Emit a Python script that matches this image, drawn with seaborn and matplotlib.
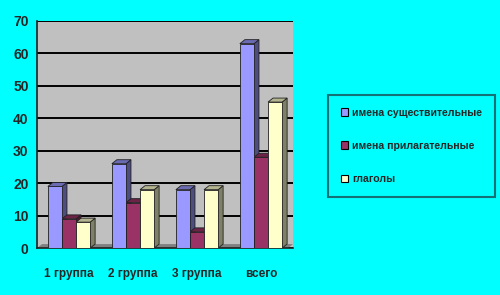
import matplotlib
matplotlib.use("Agg")
import matplotlib.pyplot as plt
import seaborn as sns
import pandas as pd
import numpy as np
from matplotlib.patches import Polygon
from matplotlib.colors import to_rgb

categories = ["1 группа", "2 группа", "3 группа", "всего"]
series_names = ["имена существительные", "имена прилагательные", "глаголы"]
nouns = [19, 26, 18, 63]
adjectives = [9, 14, 5, 28]
verbs = [8, 18, 18, 45]
y_ticks = [0, 10, 20, 30, 40, 50, 60, 70]

colors = ["#9999FF", "#993366", "#FFFFCC"]
bg = "#00FFFF"

rows = []
for name, vals in zip(series_names, [nouns, adjectives, verbs]):
    for c, v in zip(categories, vals):
        rows.append({"cat": c, "series": name, "value": v})
df = pd.DataFrame(rows)

sns.set_style("white")
plt.rcParams["font.family"] = ["Liberation Sans", "DejaVu Sans"]
plt.rcParams["font.weight"] = "bold"

fig = plt.figure(figsize=(5.0, 2.95), dpi=100, facecolor=bg)
ax = fig.add_axes([0.074, 0.159, 0.512, 0.77])
ax.set_facecolor("#C0C0C0")

sns.barplot(data=df, x="cat", y="value", hue="series", palette=colors,
            width=0.66, ax=ax, edgecolor="#202020", linewidth=0.6,
            saturation=1, legend=True, zorder=3)

ax.set_ylim(0, 70)
ax.set_yticks(y_ticks)
ax.set_xlim(-0.5, 3.5)
ax.yaxis.grid(True, color="black", linewidth=1.4, zorder=0)
ax.set_axisbelow(True)
ax.set_xlabel("")
ax.set_ylabel("")

# pixel-to-data conversion for pseudo-3D depth
fig.canvas.draw()
bbox = ax.get_window_extent()
dx = 5 * (ax.get_xlim()[1] - ax.get_xlim()[0]) / bbox.width
dy = 4 * (ax.get_ylim()[1] - ax.get_ylim()[0]) / bbox.height

def darker(c, f):
    r, g, b = to_rgb(c)
    return (r * f, g * f, b * f)

for p in list(ax.patches):
    x0 = p.get_x(); w = p.get_width(); h = p.get_height()
    if w <= 0 or h <= 0:
        continue
    fc = p.get_facecolor()
    side = Polygon([(x0 + w, 0), (x0 + w, h), (x0 + w + dx, h + dy), (x0 + w + dx, dy)],
                   closed=True, facecolor=darker(fc[:3], 0.5), edgecolor="#202020",
                   linewidth=0.6, zorder=2.9)
    top = Polygon([(x0, h), (x0 + w, h), (x0 + w + dx, h + dy), (x0 + dx, h + dy)],
                  closed=True, facecolor=darker(fc[:3], 0.7), edgecolor="#202020",
                  linewidth=0.6, zorder=2.9)
    ax.add_patch(side)
    ax.add_patch(top)

# floor
xl = ax.get_xlim()
floor = Polygon([(xl[0], 0), (xl[1] - dx, 0), (xl[1], dy), (xl[0] + dx, dy)],
                closed=True, facecolor="#808080", edgecolor="none", zorder=1)
ax.add_patch(floor)

for s in ["top", "right"]:
    ax.spines[s].set_visible(False)
ax.spines["left"].set_color("#202020")
ax.spines["bottom"].set_color("#202020")
ax.spines["left"].set_linewidth(1.2)
ax.spines["bottom"].set_linewidth(1.2)

ax.set_xticks([0, 1, 2, 3])
ax.set_xticks([0.5, 1.5, 2.5, 3.5], minor=True)
ax.tick_params(axis="x", which="major", length=0, pad=14, labelsize=8.5)
ax.tick_params(axis="x", which="minor", length=5, width=1.2, direction="out", color="#202020")
ax.tick_params(axis="y", length=4, width=1.2, direction="out", color="#202020", labelsize=10, pad=2)
for lab in ax.get_xticklabels() + ax.get_yticklabels():
    lab.set_fontweight("bold")

handles, labels = ax.get_legend_handles_labels()
ax.get_legend().remove()
leg = fig.legend(handles, labels, loc="upper left", bbox_to_anchor=(0.656, 0.678),
                 frameon=True, facecolor=bg, edgecolor="#1a4f55",
                 handlelength=0.7, handleheight=0.7, handletextpad=0.4,
                 labelspacing=2.2, borderpad=1.2, borderaxespad=0, fancybox=False,
                 prop={"weight": "bold", "size": 7.6})
leg.get_frame().set_linewidth(1.5)
for h in leg.legend_handles:
    h.set_edgecolor("black")
    h.set_linewidth(0.8)

fig.savefig("out.png", dpi=100, facecolor=bg)
